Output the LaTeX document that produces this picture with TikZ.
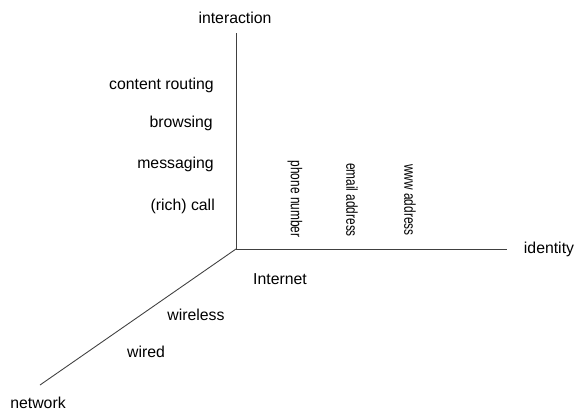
\documentclass[tikz,border=0pt]{standalone}
\usepackage{fontspec}
\setmainfont{Liberation Sans}
\begin{document}
\begin{tikzpicture}[font=\fontsize{9}{11}\selectfont, axis/.style={draw=black!75, line width=0.5pt},
  idlabel/.style={rotate=-90, xscale=0.75}]
\useasboundingbox (0,0) rectangle (11.5,-8.2);
\coordinate (O) at (4.72,-4.98);
\coordinate (top) at (4.72,-0.66);
\coordinate (right) at (10.14,-4.98);
\coordinate (low) at (0.8,-7.7);
\draw[axis] (O) -- (top);
\draw[axis] (O) -- (right);
\draw[axis] (O) -- (low);

\node (interaction) at (4.70,-0.36) {interaction};
\node (identity) at (10.98,-4.98) {identity};
\node (network) at (0.76,-8.06) {network};

\node[anchor=east] (routing) at (4.40,-1.70) {content routing};
\node[anchor=east] (browsing) at (4.38,-2.46) {browsing};
\node[anchor=east] (messaging) at (4.40,-3.28) {messaging};
\node[anchor=east] (call) at (4.42,-4.12) {(rich) call};

\node[idlabel] (phone) at (5.90,-3.98) {phone number};
\node[idlabel] (email) at (7.04,-4.00) {email address};
\node[idlabel] (www) at (8.20,-4.00) {www address};

\node (internet) at (5.60,-5.58) {Internet};
\node (wireless) at (3.92,-6.30) {wireless};
\node (wired) at (2.92,-7.04) {wired};
\end{tikzpicture}
\end{document}
